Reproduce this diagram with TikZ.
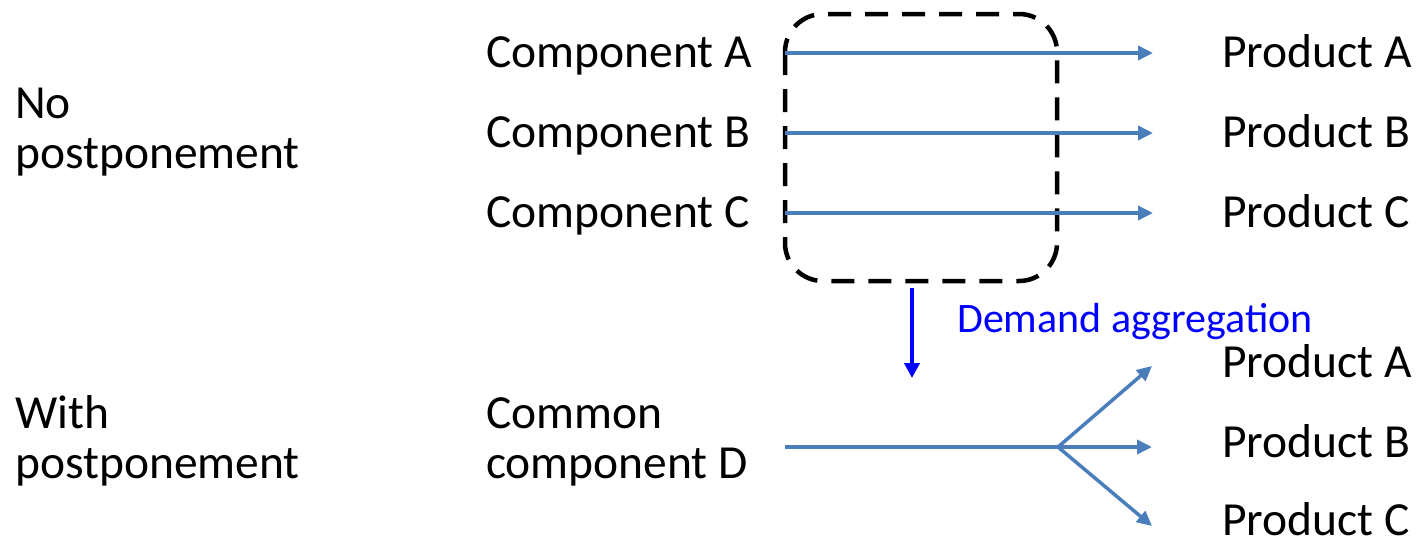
\documentclass[tikz,border=0pt]{standalone}
\usepackage{fontspec}
\setmainfont{Carlito}
\usetikzlibrary{arrows.meta}
\definecolor{flow}{HTML}{4A7EBB}
\tikzset{
  x=1pt, y=-1pt,
  lbl/.style={anchor=base west, inner sep=0pt, font=\fontsize{47.5}{50}\selectfont},
  lbltwo/.style={lbl, align=left},
  flowarrow/.style={draw=flow, line width=3.5pt, -{Triangle[length=15pt,width=14pt]}},
  flowline/.style={draw=flow, line width=3.5pt},
  groupbox/.style={draw=black, line width=4.5pt, dash pattern=on 23pt off 14pt, rounded corners=38pt},
  aggarrow/.style={draw=blue, line width=4pt, -{Triangle[length=15pt,width=15pt]}},
}
\begin{document}
\begin{tikzpicture}
\useasboundingbox (0,0) rectangle (1417,542);

% row labels (anchored at the baseline of their last line)
\node[lbltwo] (nopost) at (15,168) {No\\postponement};
\node[lbltwo] (withpost) at (15,478) {With\\postponement};

% without postponement: one component per product
\node[lbl] (compA) at (486,67) {Component A};
\node[lbl] (compB) at (486,147) {Component B};
\node[lbl] (compC) at (486,227) {Component C};
\node[lbl] (prodA) at (1222,67) {Product A};
\node[lbl] (prodB) at (1222,147) {Product B};
\node[lbl] (prodC) at (1222,227) {Product C};

\coordinate (inA) at (785,53);  \coordinate (outA) at (1153,53);
\coordinate (inB) at (785,133); \coordinate (outB) at (1153,133);
\coordinate (inC) at (785,213); \coordinate (outC) at (1153,213);

\draw[groupbox] (785,14) rectangle (1057,281);
\draw[flowarrow] (inA) -- (outA);
\draw[flowarrow] (inB) -- (outB);
\draw[flowarrow] (inC) -- (outC);

% aggregation step
\coordinate (aggtop) at (912,288);
\coordinate (aggbot) at (912,378);
\draw[aggarrow] (aggtop) -- (aggbot);
\node[anchor=base west, inner sep=0pt, font=\fontsize{42}{44}\selectfont, text=blue] (agglbl) at (957,332) {Demand aggregation};

% with postponement: one common component, split late
\node[lbltwo] (common) at (486,478) {Common\\component D};
\node[lbl] (prodA2) at (1222,377) {Product A};
\node[lbl] (prodB2) at (1222,457) {Product B};
\node[lbl, text depth=0pt] (prodC2) at (1222,535) {Product C};

\coordinate (inD) at (785,447);
\coordinate (split) at (1058,447);
\coordinate (outA2) at (1152,366);
\coordinate (outB2) at (1152,447);
\coordinate (outC2) at (1152,526);

\draw[flowline] (inD) -- (split);
\draw[flowarrow] (split) -- (outA2);
\draw[flowarrow] (split) -- (outB2);
\draw[flowarrow] (split) -- (outC2);
\end{tikzpicture}
\end{document}
